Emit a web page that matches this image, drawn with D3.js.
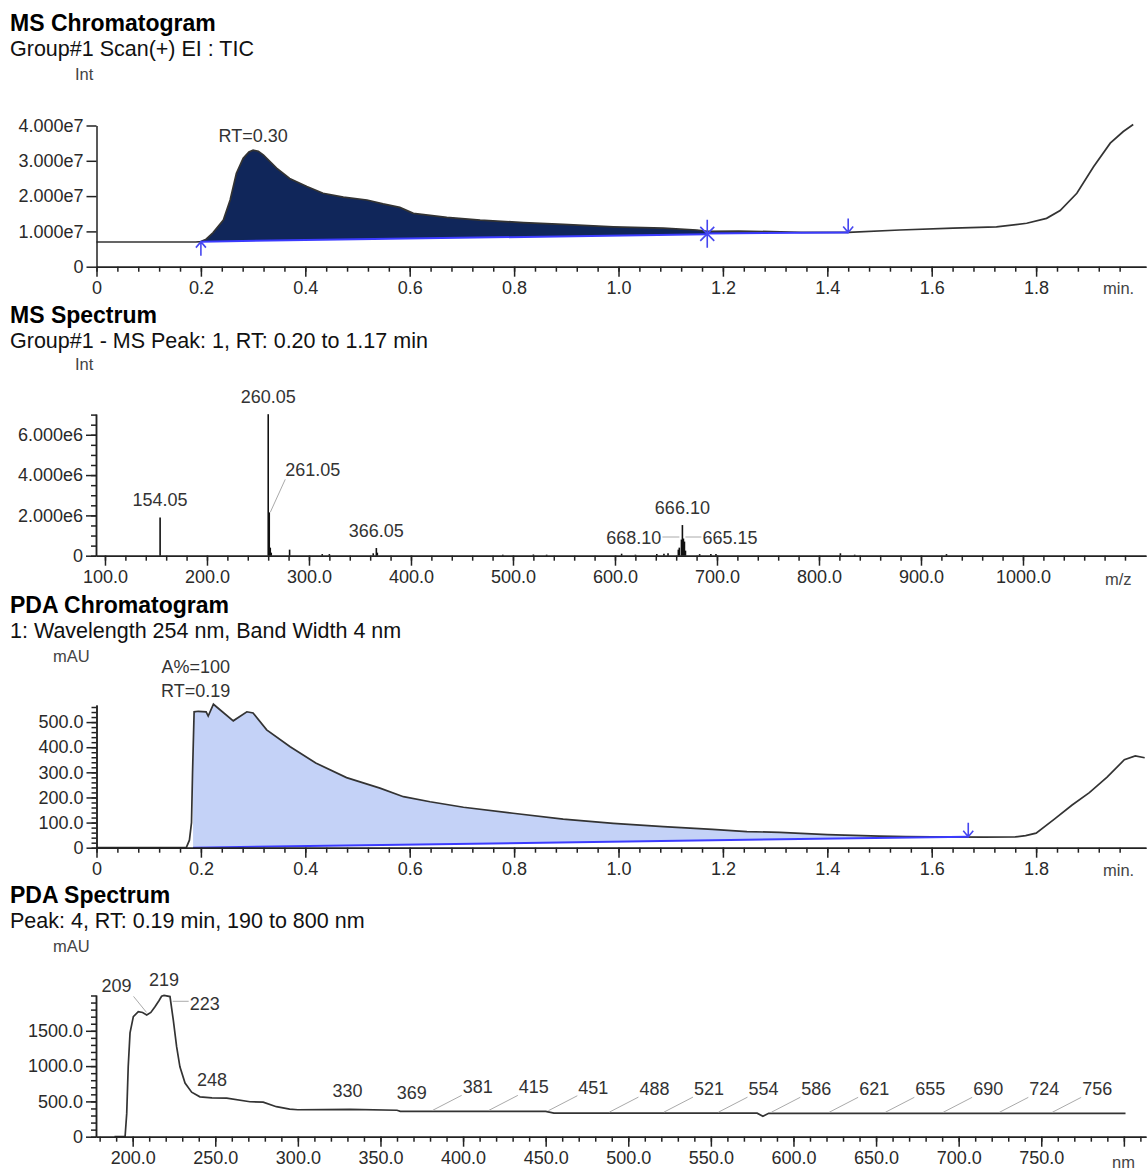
<!doctype html>
<html>
<head>
<meta charset="utf-8"/>
<style>
    html, body { margin: 0; padding: 0; background: #fff; }
    svg { display: block; }
    text { font-family: "Liberation Sans", Arial, sans-serif; }
    .title { font-weight: bold; font-size: 23px; fill: #000; }
    .sub { font-size: 21.5px; fill: #111; }
    .unit { font-size: 16.5px; fill: #444; }
    .note { font-size: 18px; fill: #333; }
    .axis text { font-family: "Liberation Sans", Arial, sans-serif; font-size: 18px; fill: #2a2a2a; }
    .axis path, .axis line { stroke: #222; stroke-width: 1.5; }
    .trace { fill: none; stroke: #333; stroke-width: 1.7; }
    .base { fill: none; stroke: #3b3bff; stroke-width: 2; }
    .mark { fill: none; stroke: #4646f0; stroke-width: 1.6; }
    .leader { stroke: #aaa; stroke-width: 1; }
</style>
<script src="https://d3js.org/d3.v7.min.js"></script>
</head>
<body>
<svg id="chart"></svg>
<script>
// ---- MS chromatogram (TIC), intensity in 1e7 ----
var ticTime = [0, 0.19, 0.20, 0.21, 0.223, 0.243, 0.256, 0.268, 0.281, 0.292, 0.30, 0.31, 0.32, 0.345, 0.37, 0.403, 0.434, 0.473, 0.518, 0.549, 0.581, 0.607, 0.671, 0.735, 0.818, 0.894, 0.99, 1.086, 1.15, 1.17, 1.23, 1.31, 1.35, 1.44, 1.539, 1.641, 1.724, 1.782, 1.82, 1.846, 1.878, 1.91, 1.942, 1.967, 1.986];
var ticInt = [0.70, 0.70, 0.71, 0.78, 0.96, 1.32, 1.89, 2.65, 3.07, 3.25, 3.30, 3.27, 3.16, 2.79, 2.50, 2.27, 2.08, 1.97, 1.89, 1.78, 1.68, 1.51, 1.40, 1.32, 1.25, 1.20, 1.13, 1.09, 1.04, 1.00, 1.01, 0.99, 0.97, 0.97, 1.04, 1.09, 1.13, 1.23, 1.37, 1.59, 2.08, 2.83, 3.50, 3.83, 4.03];
// integration baselines [t, int] start / end
var ticPeak1 = [[0.20, 0.71], [1.17, 0.92]];
var ticPeak2 = [[1.17, 0.94], [1.44, 0.97]];
var ticRT = 0.30;

// ---- MS spectrum, intensity in 1e6 ----
var msMz = [154.05, 260.05, 261.05, 262.05, 263.0, 281.0, 313.0, 320.0, 363.0, 366.05, 367.0, 490, 520, 533, 606.5, 620, 641, 648, 652, 662.1, 663.1, 665.15, 666.10, 667.1, 668.10, 669.1, 683, 694, 699, 821, 835, 925];
var msInt = [1.9, 7.02, 2.15, 0.4, 0.15, 0.3, 0.08, 0.08, 0.12, 0.38, 0.15, 0.05, 0.06, 0.05, 0.1, 0.05, 0.08, 0.1, 0.12, 0.3, 0.4, 0.8, 1.52, 0.85, 0.7, 0.25, 0.08, 0.08, 0.08, 0.12, 0.05, 0.08];
var msLabels = ["154.05", "260.05", "261.05", "366.05", "666.10", "668.10", "665.15"];

// ---- PDA chromatogram, mAU ----
var pdaTime = [0, 0.172, 0.178, 0.182, 0.184, 0.187, 0.195, 0.21, 0.214, 0.224, 0.262, 0.288, 0.30, 0.326, 0.371, 0.42, 0.479, 0.543, 0.588, 0.639, 0.703, 0.798, 0.894, 0.99, 1.086, 1.18, 1.246, 1.309, 1.4, 1.5, 1.55, 1.6, 1.7, 1.76, 1.78, 1.8, 1.835, 1.869, 1.902, 1.936, 1.969, 1.99, 2.008];
var pdaAbs = [0, 0, 30, 100, 300, 541, 543, 541, 524, 571, 505, 541, 536, 469, 402, 337, 279, 237, 203, 183, 161, 137, 114, 97, 84, 73, 64, 61, 52, 46, 44, 43, 42, 43, 48, 58, 114, 170, 219, 281, 350, 365, 358];
var pdaPeak = [[0.185, 0], [1.67, 44]];
var pdaRT = 0.19, pdaArea = 100;

// ---- PDA spectrum, mAU ----
var specNm = [189, 195.4, 196.4, 197.3, 198.4, 200.4, 203.4, 206, 208.5, 211, 213.5, 216, 217.5, 219, 222.6, 224.6, 226.6, 228.6, 231.7, 235.7, 240.7, 248, 256.9, 271, 279, 287, 295, 300, 331.6, 360, 362, 450, 455, 578, 581.5, 585, 801];
var specAbs = [0, 0, 330, 990, 1470, 1700, 1770, 1760, 1725, 1760, 1840, 1930, 1990, 2000, 1985, 1650, 1275, 990, 760, 630, 565, 550, 545, 495, 490, 425, 390, 382, 388, 375, 360, 358, 335, 333, 290, 332, 330];
var specPeaks = [209, 219, 223, 248, 330, 369, 381, 415, 451, 488, 521, 554, 586, 621, 655, 690, 724, 756];

var svg = d3.select("#chart").attr("width", 1148).attr("height", 1172);

function interp(xs, ys, v) {
    var i = d3.bisectRight(xs, v);
    if (i <= 0) return ys[0];
    if (i >= xs.length) return ys[ys.length - 1];
    var f = (v - xs[i - 1]) / (xs[i] - xs[i - 1]);
    return ys[i - 1] + f * (ys[i] - ys[i - 1]);
}

function xAxis(x, y0, majors, minors, fmt) {
    svg.append("g").attr("class", "axis").attr("transform", "translate(0," + y0 + ")")
        .call(d3.axisBottom(x).tickValues(minors).tickSize(5).tickSizeOuter(0).tickFormat(""));
    svg.append("g").attr("class", "axis").attr("transform", "translate(0," + y0 + ")")
        .call(d3.axisBottom(x).tickValues(majors).tickSize(10).tickPadding(5).tickSizeOuter(0).tickFormat(fmt));
}
function yAxis(y, x0, majors, minors, fmt) {
    if (minors) svg.append("g").attr("class", "axis").attr("transform", "translate(" + x0 + ",0)")
        .call(d3.axisLeft(y).tickValues(minors).tickSize(5).tickSizeOuter(0).tickFormat(""));
    svg.append("g").attr("class", "axis").attr("transform", "translate(" + x0 + ",0)")
        .call(d3.axisLeft(y).tickValues(majors).tickSize(10).tickPadding(3).tickSizeOuter(0).tickFormat(fmt));
}
function heading(t, s, y) {
    svg.append("text").attr("class", "title").attr("x", 10).attr("y", y).text(t);
    svg.append("text").attr("class", "sub").attr("x", 10).attr("y", y + 25).text(s);
}
function unit(t, x, y) {
    svg.append("text").attr("class", "unit").attr("x", x).attr("y", y).text(t);
}
// area between trace and a straight baseline
function peakArea(xs, ys, base, x, y) {
    var t0 = base[0][0], t1 = base[1][0];
    var bl = function(t) { return base[0][1] + (t - t0) / (t1 - t0) * (base[1][1] - base[0][1]); };
    var pts = [t0];
    xs.forEach(function(t) { if (t > t0 && t < t1) pts.push(t); });
    pts.push(t1);
    return d3.area()
        .x(function(t) { return x(t); })
        .y0(function(t) { return y(bl(t)); })
        .y1(function(t) { return y(Math.max(bl(t), interp(xs, ys, t))); })(pts);
}
var timeMajors = d3.range(0, 10).map(function(i) { return i * 0.2; });
var timeMinors = d3.range(0, 50).map(function(i) { return i * 0.04; });
var timeFmt = function(d) { return d === 0 ? "0" : d.toFixed(1); };

// ================= MS Chromatogram =================
heading("MS Chromatogram", "Group#1 Scan(+) EI : TIC", 31);
unit("Int", 75, 80);
var x1 = d3.scaleLinear().domain([0, 2.0105]).range([96.5, 1146]);
var y1 = d3.scaleLinear().domain([0, 4]).range([266.7, 125.5]);

svg.append("path").attr("fill", "#10265a").attr("d", peakArea(ticTime, ticInt, ticPeak1, x1, y1));
svg.append("path").attr("fill", "#10265a").attr("d", peakArea(ticTime, ticInt, ticPeak2, x1, y1));
var line1 = d3.line().x(function(d, i) { return x1(ticTime[i]); }).y(function(d) { return y1(d); });
svg.append("path").attr("class", "trace").attr("d", line1(ticInt));
[ticPeak1, ticPeak2].forEach(function(b) {
    svg.append("line").attr("class", "base")
        .attr("x1", x1(b[0][0])).attr("y1", y1(b[0][1])).attr("x2", x1(b[1][0])).attr("y2", y1(b[1][1]));
});
// peak start / end marks
(function() {
    var px = x1(ticPeak1[0][0]), py = y1(ticPeak1[0][1]);
    svg.append("path").attr("class", "mark").attr("d", "M" + px + "," + (py + 14) + "V" + py + "M" + (px - 5) + "," + (py + 6) + "L" + px + "," + py + "L" + (px + 5) + "," + (py + 6));
    px = x1(ticPeak1[1][0]); py = y1((ticPeak1[1][1] + ticPeak2[0][1]) / 2);
    svg.append("path").attr("class", "mark").attr("d", "M" + px + "," + (py - 14) + "V" + (py + 14) +
        "M" + (px - 7) + "," + (py - 7) + "L" + (px + 7) + "," + (py + 7) + "M" + (px + 7) + "," + (py - 7) + "L" + (px - 7) + "," + (py + 7));
    px = x1(ticPeak2[1][0]); py = y1(ticPeak2[1][1]);
    svg.append("path").attr("class", "mark").attr("d", "M" + px + "," + (py - 14) + "V" + py + "M" + (px - 5) + "," + (py - 6) + "L" + px + "," + py + "L" + (px + 5) + "," + (py - 6));
})();
svg.append("text").attr("class", "note").attr("text-anchor", "middle")
    .attr("x", x1(ticRT)).attr("y", y1(interp(ticTime, ticInt, ticRT)) - 8).text("RT=" + ticRT.toFixed(2));

yAxis(y1, 96.5, [0, 1, 2, 3, 4], null, function(d) { return d === 0 ? "0" : d.toFixed(3) + "e7"; });
xAxis(x1, 266.7, timeMajors, timeMinors.filter(function(d) { return d < 1.97; }), timeFmt);
unit("min.", 1103, 294);

// ================= MS Spectrum =================
heading("MS Spectrum", "Group#1 - MS Peak: 1, RT: 0.20 to 1.17 min", 323);
unit("Int", 75, 370);
var x2 = d3.scaleLinear().domain([91.2, 1120.6]).range([96, 1146]);
var y2 = d3.scaleLinear().domain([0, 7.03]).range([555.7, 414]);
svg.append("g").selectAll("line").data(msMz).enter().append("line")
    .attr("x1", function(d) { return x2(d); }).attr("x2", function(d) { return x2(d); })
    .attr("y1", y2(0)).attr("y2", function(d, i) { return y2(msInt[i]); })
    .attr("stroke", "#111").attr("stroke-width", 1.6);
function msPeak(lbl) { var m = +lbl; var i = msMz.indexOf(m); return { x: x2(m), y: y2(msInt[i]) }; }
msLabels.forEach(function(lbl) {
    var p = msPeak(lbl), t = svg.append("text").attr("class", "note").text(lbl);
    if (lbl === "261.05") {
        svg.append("line").attr("class", "leader").attr("x1", p.x + 1).attr("y1", p.y).attr("x2", p.x + 16).attr("y2", p.y - 33);
        t.attr("x", p.x + 16).attr("y", p.y - 36);
    } else if (lbl === "668.10") {
        var c = msPeak("666.10");
        svg.append("line").attr("class", "leader").attr("x1", c.x - 20).attr("y1", 537).attr("x2", c.x - 3).attr("y2", 537);
        t.attr("text-anchor", "end").attr("x", c.x - 21).attr("y", 544);
    } else if (lbl === "665.15") {
        var c2 = msPeak("666.10");
        svg.append("line").attr("class", "leader").attr("x1", c2.x + 3).attr("y1", 537).attr("x2", c2.x + 19).attr("y2", 537);
        t.attr("x", c2.x + 20).attr("y", 544);
    } else {
        t.attr("text-anchor", "middle").attr("x", p.x).attr("y", p.y - 11);
    }
});
yAxis(y2, 96, [0, 2, 4, 6], d3.range(0, 15).map(function(i) { return i * 0.5; }),
    function(d) { return d === 0 ? "0" : d.toFixed(3) + "e6"; });
xAxis(x2, 555.7, d3.range(100, 1001, 100), d3.range(100, 1101, 20), function(d) { return d.toFixed(1); });
unit("m/z", 1105, 585);

// ================= PDA Chromatogram =================
heading("PDA Chromatogram", "1: Wavelength 254 nm, Band Width 4 nm", 613);
unit("mAU", 53, 662);
var x3 = d3.scaleLinear().domain([0, 2.0105]).range([96.5, 1146]);
var y3 = d3.scaleLinear().domain([0, 568]).range([847.7, 705]);
svg.append("path").attr("fill", "#c4d2f7").attr("d", peakArea(pdaTime, pdaAbs, pdaPeak, x3, y3));
var line3 = d3.line().x(function(d, i) { return x3(pdaTime[i]); }).y(function(d) { return y3(d); });
svg.append("path").attr("class", "trace").attr("d", line3(pdaAbs));
svg.append("line").attr("class", "base").attr("stroke", "#3636e6")
    .attr("x1", x3(pdaPeak[0][0])).attr("y1", y3(pdaPeak[0][1])).attr("x2", x3(pdaPeak[1][0])).attr("y2", y3(pdaPeak[1][1]));
(function() {
    var px = x3(pdaPeak[1][0]), py = y3(pdaPeak[1][1]);
    svg.append("path").attr("class", "mark").attr("d", "M" + px + "," + (py - 14) + "V" + py + "M" + (px - 5) + "," + (py - 6) + "L" + px + "," + py + "L" + (px + 5) + "," + (py - 6));
})();
svg.append("text").attr("class", "note").attr("text-anchor", "middle").attr("x", x3(pdaRT)).attr("y", 673).text("A%=" + pdaArea);
svg.append("text").attr("class", "note").attr("text-anchor", "middle").attr("x", x3(pdaRT)).attr("y", 697).text("RT=" + pdaRT.toFixed(2));
yAxis(y3, 96.5, d3.range(0, 501, 100), d3.range(0, 561, 20), function(d) { return d === 0 ? "0" : d.toFixed(1); });
xAxis(x3, 847.7, timeMajors, timeMinors.filter(function(d) { return d < 1.97; }), timeFmt);
unit("min.", 1103, 876);

// ================= PDA Spectrum =================
heading("PDA Spectrum", "Peak: 4, RT: 0.19 min, 190 to 800 nm", 903);
unit("mAU", 53, 952);
var x4 = d3.scaleLinear().domain([177.8, 813.4]).range([96, 1146]);
var y4 = d3.scaleLinear().domain([0, 2007]).range([1136.7, 995]);
var line4 = d3.line().x(function(d, i) { return x4(specNm[i]); }).y(function(d) { return y4(d); });
svg.append("path").attr("class", "trace").attr("d", line4(specAbs));
specPeaks.forEach(function(nm) {
    var px = x4(nm), py = y4(interp(specNm, specAbs, nm));
    var t = svg.append("text").attr("class", "note").text(nm);
    if (nm === 209) {
        svg.append("line").attr("class", "leader").attr("x1", px - 1).attr("y1", py - 2).attr("x2", px - 14).attr("y2", py - 18);
        t.attr("text-anchor", "middle").attr("x", px - 31).attr("y", py - 22);
    } else if (nm === 219) {
        t.attr("text-anchor", "middle").attr("x", px).attr("y", py - 9);
    } else if (nm === 223) {
        svg.append("line").attr("class", "leader").attr("x1", px + 2).attr("y1", py).attr("x2", px + 18).attr("y2", py);
        t.attr("x", px + 19).attr("y", py + 9);
    } else if (nm < 381) {
        t.attr("text-anchor", "middle").attr("x", px).attr("y", py - 12);
    } else {
        svg.append("line").attr("class", "leader").attr("x1", px + 1).attr("y1", py - 1).attr("x2", px + 30).attr("y2", py - 16);
        t.attr("x", px + 31).attr("y", py - 18);
    }
});
yAxis(y4, 96, d3.range(0, 1501, 500), d3.range(0, 2001, 100), function(d) { return d === 0 ? "0" : d.toFixed(1); });
xAxis(x4, 1136.7, d3.range(200, 801, 50), d3.range(180, 811, 10), function(d) { return d === 800 ? "" : d.toFixed(1); });
unit("nm", 1112, 1168);
</script>
</body>
</html>
